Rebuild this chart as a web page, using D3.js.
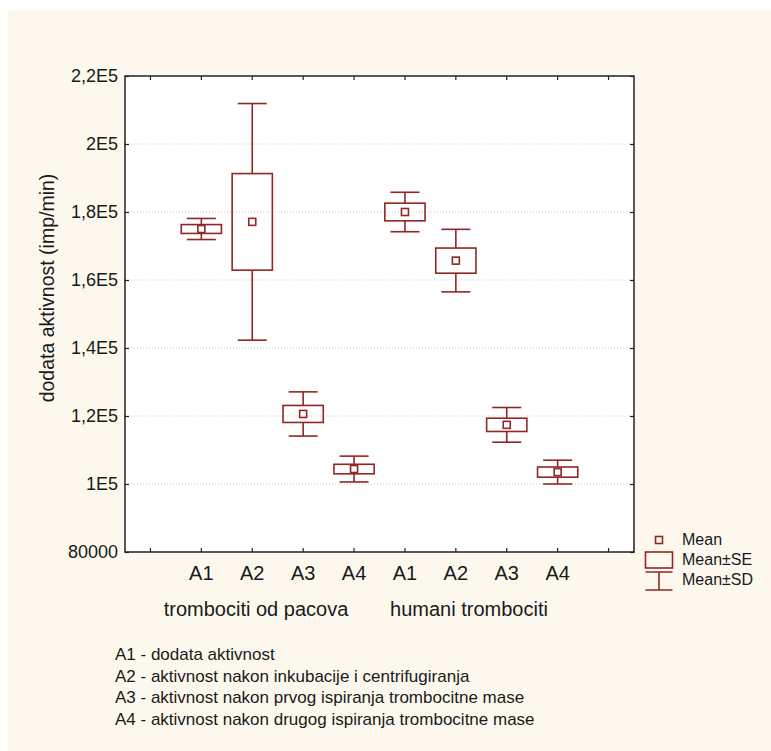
<!DOCTYPE html>
<html lang="sr">
<head>
  <meta charset="utf-8">
  <title>dodata aktivnost</title>
  <script src="https://d3js.org/d3.v7.min.js"></script>
  <style>
    body { margin: 0; background: #fff; }
    svg text { font-family: 'Liberation Sans', Arial, sans-serif; fill: #1a1a1a; }
    .grid line { stroke: #c8c8c8; stroke-dasharray: 1,2; }
  </style>
</head>
<body>
<div id="chart"></div>
<script>

  // data
  var groups = ['trombociti od pacova', 'humani trombociti'];
  var stages = ['A1', 'A2', 'A3', 'A4'];
  var means = [175000, 177100, 120600, 104400, 180000, 165700, 117400, 103500];
  var se    = [1300, 14200, 2500, 1400, 2600, 3700, 1950, 1500];
  var sd    = [3100, 34800, 6500, 3800, 5800, 9200, 5100, 3500];
  var yTicks = [80000, 100000, 120000, 140000, 160000, 180000, 200000, 220000];
  var yTickLabels = ['80000', '1E5', '1,2E5', '1,4E5', '1,6E5', '1,8E5', '2E5', '2,2E5'];
  var notes = [
    'A1 - dodata aktivnost',
    'A2 - aktivnost nakon inkubacije i centrifugiranja',
    'A3 - aktivnost nakon prvog ispiranja trombocitne mase',
    'A4 - aktivnost nakon drugog ispiranja trombocitne mase'
  ];

  var red = '#922626';
  var W = 771, H = 751;
  var plot = { left: 125, top: 76, right: 634, bottom: 552 };

  var svg = d3.select('#chart').append('svg')
    .attr('width', W)
    .attr('height', H);

  svg.append('rect')
    .attr('x', 8).attr('y', 10)
    .attr('width', W - 8).attr('height', H - 10)
    .attr('fill', '#fdf8ee');

  svg.append('rect')
    .attr('x', plot.left).attr('y', plot.top)
    .attr('width', plot.right - plot.left).attr('height', plot.bottom - plot.top)
    .attr('fill', '#fff');

  // one slot per box, plus an empty slot at each end
  var rows = [];
  groups.forEach(function(g, gi) {
    stages.forEach(function(s, si) {
      var i = gi * stages.length + si;
      rows.push({ id: g + '|' + s, group: g, stage: s, mean: means[i], se: se[i], sd: sd[i] });
    });
  });
  var slots = ['pad0'].concat(rows.map(function(d) { return d.id; })).concat(['pad1']);

  var xScale = d3.scaleBand()
    .domain(slots)
    .range([plot.left, plot.right])
    .padding(0);
  var bw = xScale.bandwidth();
  var cx = function(id) { return xScale(id) + bw / 2; };

  var yScale = d3.scaleLinear()
    .domain([80000, 220000])
    .range([plot.bottom, plot.top]);

  // grid
  svg.append('g')
    .attr('class', 'grid')
    .selectAll('line')
    .data(yTicks.slice(1, -1))
    .enter().append('line')
    .attr('x1', plot.left).attr('x2', plot.right)
    .attr('y1', function(d) { return yScale(d); })
    .attr('y2', function(d) { return yScale(d); });

  // axes with inward ticks on all four sides
  var axisStyle = function(g) {
    g.select('.domain').remove();
    g.selectAll('.tick line').attr('stroke', '#222').attr('stroke-width', 1.2);
  };

  svg.append('g')
    .attr('transform', 'translate(' + plot.left + ',0)')
    .call(d3.axisLeft(yScale).tickValues(yTicks).tickSize(-4).tickPadding(7)
      .tickFormat(function(d, i) { return yTickLabels[i]; }))
    .call(axisStyle)
    .selectAll('text')
    .style('font-size', '18px').attr('fill', '#1a1a1a');

  svg.append('g')
    .attr('transform', 'translate(' + plot.right + ',0)')
    .call(d3.axisRight(yScale).tickValues(yTicks).tickSize(-4).tickFormat(''))
    .call(axisStyle);

  var xBottom = d3.axisBottom(xScale).tickSize(-4).tickPadding(14)
    .tickFormat(function(d) { return d.indexOf('|') > 0 ? d.split('|')[1] : ''; });

  svg.append('g')
    .attr('transform', 'translate(0,' + plot.bottom + ')')
    .call(xBottom)
    .call(axisStyle)
    .selectAll('text')
    .style('font-size', '20px').attr('fill', '#1a1a1a');

  svg.append('g')
    .attr('transform', 'translate(0,' + plot.top + ')')
    .call(d3.axisTop(xScale).tickSize(-4).tickFormat(''))
    .call(axisStyle);

  // frame
  svg.append('rect')
    .attr('x', plot.left).attr('y', plot.top)
    .attr('width', plot.right - plot.left).attr('height', plot.bottom - plot.top)
    .attr('fill', 'none').attr('stroke', '#222').attr('stroke-width', 1.5);

  // boxes
  var boxW = bw * 0.79, capW = bw * 0.57, dot = 7;
  var box = svg.selectAll('.box')
    .data(rows)
    .enter().append('g')
    .attr('class', 'box')
    .attr('fill', 'none')
    .attr('stroke', red)
    .attr('stroke-width', 1.6);

  box.append('line')
    .attr('x1', function(d) { return cx(d.id); })
    .attr('x2', function(d) { return cx(d.id); })
    .attr('y1', function(d) { return yScale(d.mean + d.sd); })
    .attr('y2', function(d) { return yScale(d.mean + d.se); });
  box.append('line')
    .attr('x1', function(d) { return cx(d.id); })
    .attr('x2', function(d) { return cx(d.id); })
    .attr('y1', function(d) { return yScale(d.mean - d.se); })
    .attr('y2', function(d) { return yScale(d.mean - d.sd); });
  box.append('line')
    .attr('x1', function(d) { return cx(d.id) - capW / 2; })
    .attr('x2', function(d) { return cx(d.id) + capW / 2; })
    .attr('y1', function(d) { return yScale(d.mean + d.sd); })
    .attr('y2', function(d) { return yScale(d.mean + d.sd); });
  box.append('line')
    .attr('x1', function(d) { return cx(d.id) - capW / 2; })
    .attr('x2', function(d) { return cx(d.id) + capW / 2; })
    .attr('y1', function(d) { return yScale(d.mean - d.sd); })
    .attr('y2', function(d) { return yScale(d.mean - d.sd); });
  box.append('rect')
    .attr('x', function(d) { return cx(d.id) - boxW / 2; })
    .attr('y', function(d) { return yScale(d.mean + d.se); })
    .attr('width', boxW)
    .attr('height', function(d) { return yScale(d.mean - d.se) - yScale(d.mean + d.se); });
  box.append('rect')
    .attr('x', function(d) { return cx(d.id) - dot / 2; })
    .attr('y', function(d) { return yScale(d.mean) - dot / 2; })
    .attr('width', dot).attr('height', dot)
    .attr('fill', '#fff');

  // group labels
  var groupX = [256, 469];
  svg.selectAll('.grp')
    .data(groups)
    .enter().append('text')
    .attr('class', 'grp')
    .attr('x', function(d, i) { return groupX[i]; })
    .attr('y', 616)
    .attr('text-anchor', 'middle')
    .style('font-size', '20px')
    .text(function(d) { return d; });

  // y title
  svg.append('text')
    .attr('transform', 'translate(54,288) rotate(-90)')
    .attr('text-anchor', 'middle')
    .style('font-size', '19.5px')
    .text('dodata aktivnost (imp/min)');

  // legend
  var lg = svg.append('g').attr('transform', 'translate(659,0)');
  lg.append('rect').attr('x', -3.5).attr('y', 536.5).attr('width', 7).attr('height', 7)
    .attr('fill', 'none').attr('stroke', red).attr('stroke-width', 1.6);
  lg.append('rect').attr('x', -13.5).attr('y', 552).attr('width', 27).attr('height', 16)
    .attr('fill', 'none').attr('stroke', red).attr('stroke-width', 1.6);
  lg.append('path').attr('d', 'M-13.5,572H13.5M0,572V590M-13.5,590H13.5')
    .attr('fill', 'none').attr('stroke', red).attr('stroke-width', 1.6);
  lg.selectAll('text')
    .data(['Mean', 'Mean\u00b1SE', 'Mean\u00b1SD'])
    .enter().append('text')
    .attr('x', 23)
    .attr('y', function(d, i) { return 545 + i * 20; })
    .style('font-size', '16px')
    .text(function(d) { return d; });

  // notes
  svg.selectAll('.note')
    .data(notes)
    .enter().append('text')
    .attr('class', 'note')
    .attr('x', 115)
    .attr('y', function(d, i) { return 660 + i * 21.7; })
    .style('font-size', '17px')
    .text(function(d) { return d; });

</script>
</body>
</html>
